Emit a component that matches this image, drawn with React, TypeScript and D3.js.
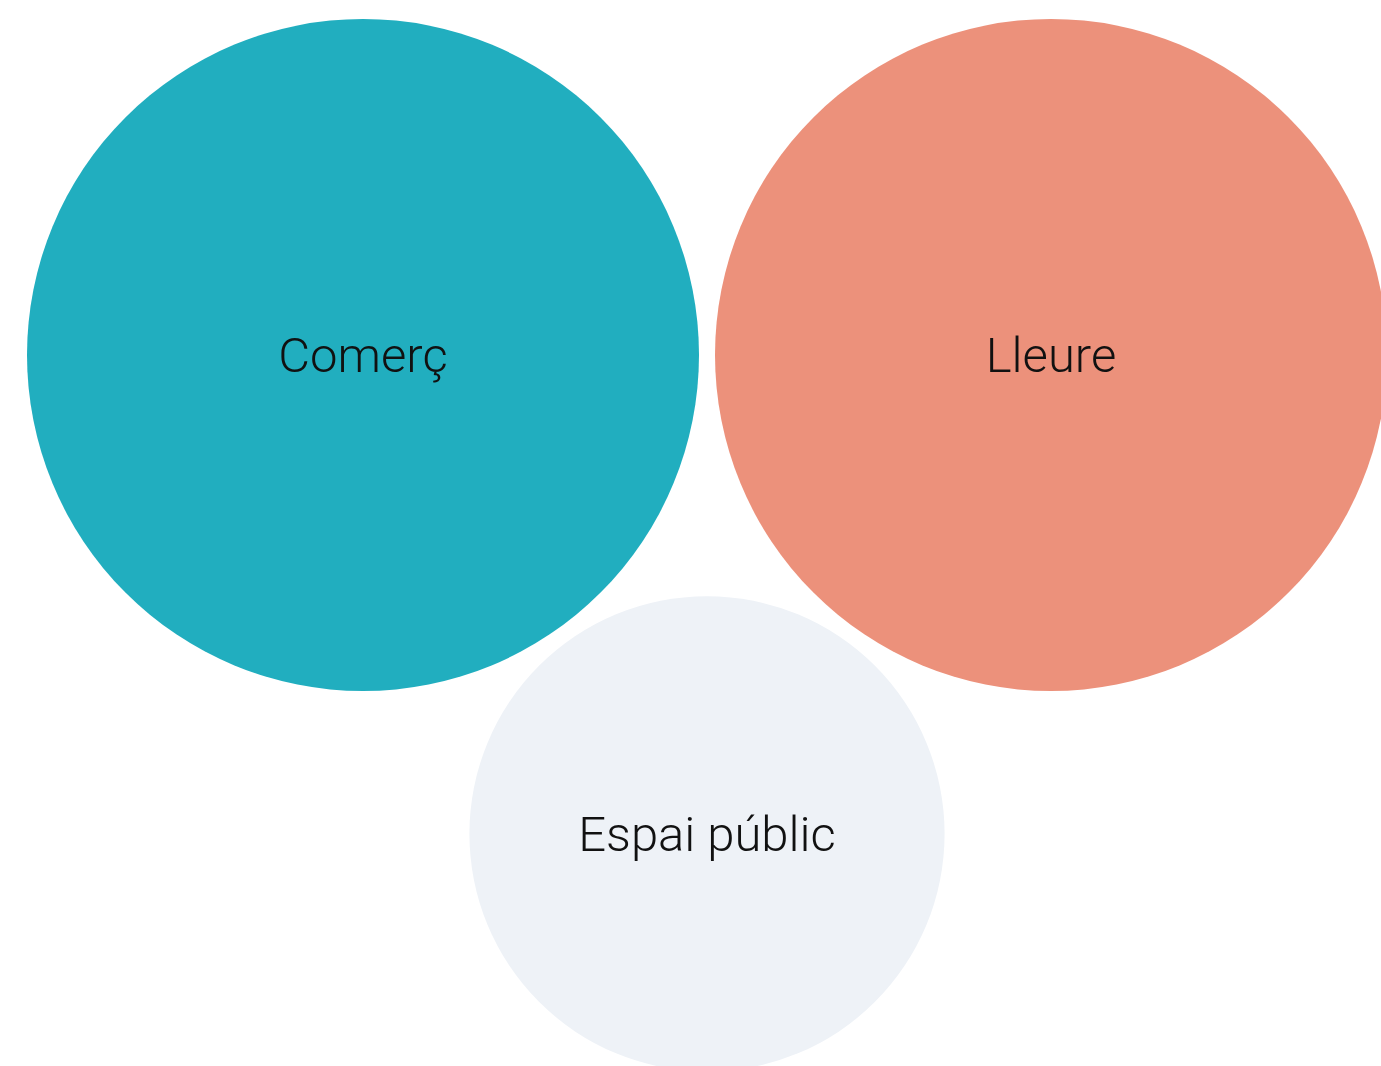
import React, { useEffect } from 'react';
import * as d3 from 'd3';

// categories and their sizes (circle area ~ value)
const categories = ['Comerç', 'Lleure', 'Espai públic'];
const values = [2, 2, 1];
const colors = ['#21aebf', '#ec917b', '#eef2f7'];

const width = 1381;
const height = 1066;
const gap = 16;

function App() {
  useEffect(() => {
    // chart fills the whole window, no scrollbars
    document.body.style.margin = '0';
    document.body.style.overflow = 'hidden';
  }, []);

  const r = d3.scaleSqrt().domain([0, d3.max(values) as number]).range([0, 336]);

  const radii = values.map((v) => r(v));

  // first two side by side, third one tucked below between them
  const x0 = 363;
  const y0 = 355;
  const nodes = [
    { x: x0, y: y0 },
    { x: x0 + radii[0] + radii[1] + gap, y: y0 },
  ];
  const half = (nodes[1].x - nodes[0].x) / 2;
  const d = radii[0] + radii[2] + gap;
  nodes.push({ x: nodes[0].x + half, y: y0 + Math.sqrt(d * d - half * half) });

  return (
    <svg width={width} height={height} style={{ display: 'block' }}>
      {categories.map((c, i) => (
        <g key={c} transform={`translate(${nodes[i].x}, ${nodes[i].y})`}>
          <circle r={radii[i]} fill={colors[i]} />
          <text
            textAnchor="middle"
            dy="0.35em"
            style={{ fontFamily: 'Roboto, sans-serif', fontWeight: 300, fontSize: 49, fill: '#111' }}
          >
            {c}
          </text>
        </g>
      ))}
    </svg>
  );
}

export default App;
